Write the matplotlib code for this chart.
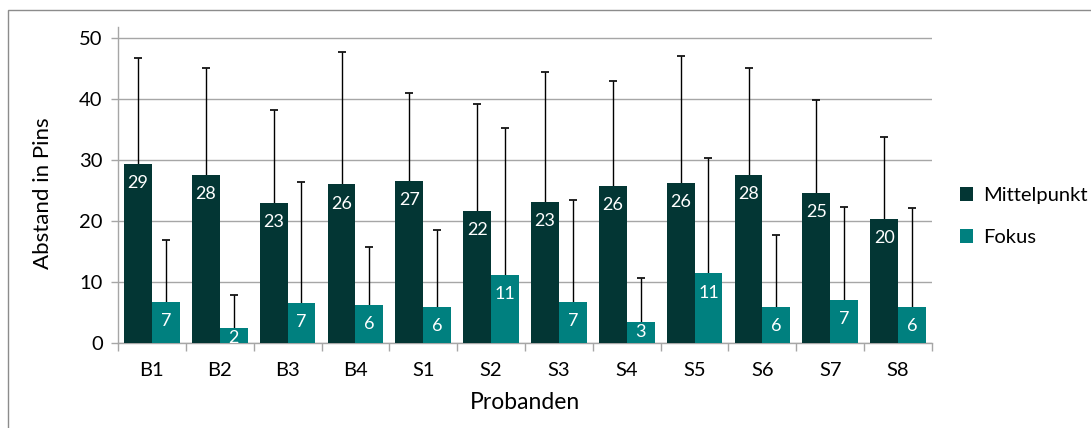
import numpy as np
import matplotlib.pyplot as plt
from matplotlib.patches import Rectangle

plt.rcParams['font.family'] = ['Lato', 'DejaVu Sans']

# Probanden and mean distances (in pins) with their standard deviations
probanden = ["B1", "B2", "B3", "B4", "S1", "S2", "S3", "S4", "S5", "S6", "S7", "S8"]
mittelpunkt = [29.3, 27.6, 23.0, 26.0, 26.6, 21.6, 23.1, 25.7, 26.2, 27.6, 24.6, 20.3]
mittelpunkt_sd = [17.4, 17.4, 15.2, 21.7, 14.3, 17.6, 21.4, 17.3, 20.8, 17.4, 15.3, 13.5]
fokus = [6.7, 2.4, 6.6, 6.3, 5.95, 11.1, 6.8, 3.4, 11.4, 5.85, 7.0, 5.95]
fokus_sd = [10.2, 5.5, 19.8, 9.4, 12.5, 24.1, 16.6, 7.3, 18.9, 11.9, 15.3, 16.2]

dark = '#033634'
teal = '#00807f'
grid_col = '#a6a6a6'

fig = plt.figure(figsize=(10.91, 4.28), dpi=100)
ax = fig.add_axes([118 / 1091, 1 - 343 / 428, (932 - 118) / 1091, (343 - 27) / 428])

# thin frame around the chart area
fig.patches.append(Rectangle((7.5 / 1091, -0.1), 1.2, 1 - 9.5 / 428 + 0.1,
                             transform=fig.transFigure, fill=False,
                             edgecolor='#8c8c8c', linewidth=1.0))

x = np.arange(len(probanden))
w = 0.41

bars1 = ax.bar(x - w / 2, mittelpunkt, width=w, color=dark, label='Mittelpunkt', zorder=3)
bars2 = ax.bar(x + w / 2, fokus, width=w, color=teal, label='Fokus', zorder=3)

# only the upper half of the error bars is shown
for xs, vals, sd in [(x - w / 2, mittelpunkt, mittelpunkt_sd), (x + w / 2, fokus, fokus_sd)]:
    eb = ax.errorbar(xs, vals, yerr=[np.zeros(len(xs)), sd],
                     fmt='none', ecolor='black', elinewidth=1.0, capsize=3.2,
                     capthick=1.2, zorder=2)
    eb[1][0].set_visible(False)

# value labels inside the bar top; short bars get them pushed up to the edge
for bars, vals in [(bars1, mittelpunkt), (bars2, fokus)]:
    for b, v in zip(bars, vals):
        off = -8 if v > 5 else -1.5
        t = ax.annotate(f"{v:.0f}", (b.get_x() + b.get_width() / 2, v),
                        xytext=(0, off), textcoords='offset points',
                        ha='center', va='top', color='white', fontsize=13, zorder=4)
        t.set_clip_on(True)

ax.set_ylim(0, 51.8)
ax.set_xlim(-0.5, len(x) - 0.5)
ax.set_yticks(range(0, 51, 10))
ax.yaxis.grid(True, color=grid_col, linewidth=1.0, zorder=0)
ax.set_axisbelow(True)

# category labels in the middle, tick marks on the boundaries
ax.set_xticks(x)
ax.set_xticklabels(probanden, fontsize=14.5)
ax.tick_params(axis='x', which='major', length=0, pad=14)
ax.set_xticks(np.arange(-0.5, len(x)), minor=True)
ax.tick_params(axis='x', which='minor', length=6, color=grid_col, width=1.0)
ax.tick_params(axis='y', length=5, color=grid_col, width=1.0, labelsize=14.5, pad=6)

for side in ['top', 'right']:
    ax.spines[side].set_visible(False)
for side in ['left', 'bottom']:
    ax.spines[side].set_color(grid_col)
    ax.spines[side].set_linewidth(1.0)

ax.set_ylabel("Abstand in Pins", fontsize=16)
ax.yaxis.set_label_coords(-0.08, 0.475)
ax.set_xlabel("Probanden", fontsize=16.5, labelpad=9)

ax.legend(loc='center left', bbox_to_anchor=(1.012, 0.4), frameon=False,
          fontsize=14.5, handlelength=0.65, handleheight=0.65, handletextpad=0.5,
          labelspacing=1.25)

fig.savefig("out.png", dpi=100)
